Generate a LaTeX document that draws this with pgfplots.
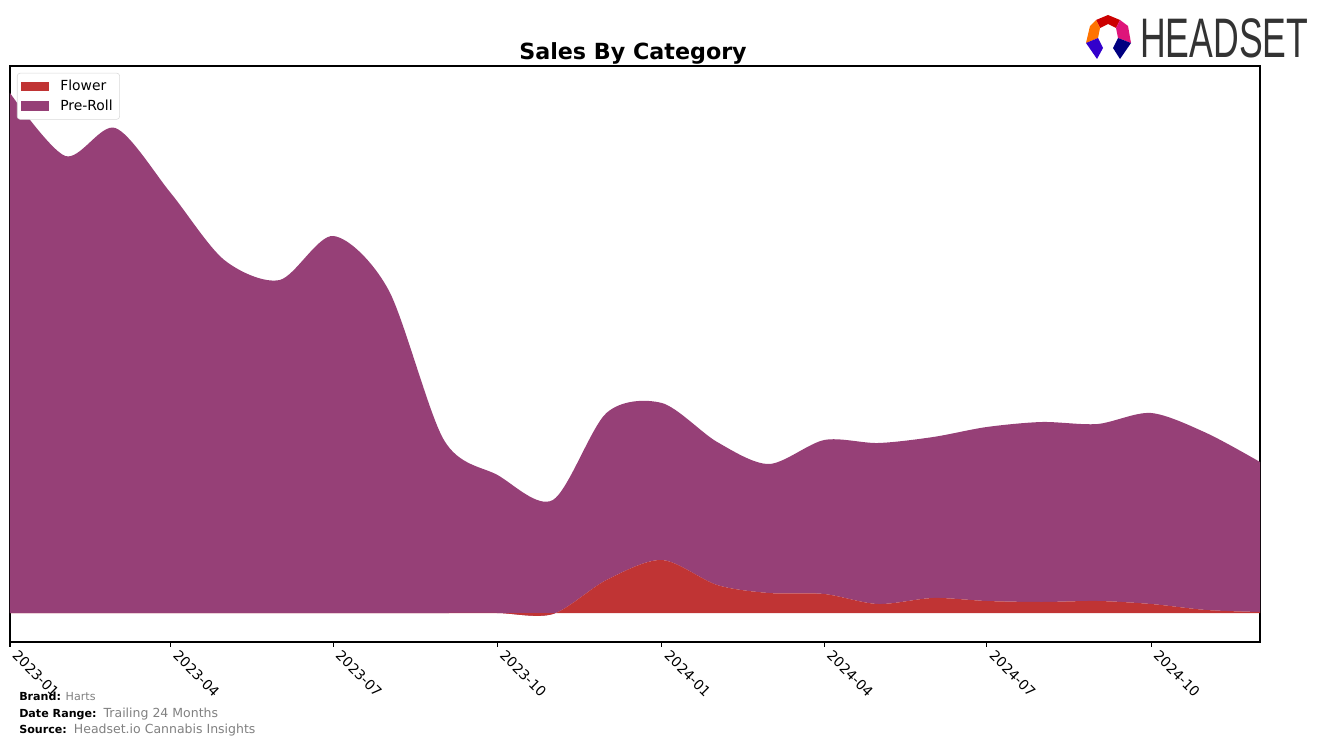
\documentclass[border=0pt]{standalone}
\usepackage{pgfplots}
\pgfplotsset{compat=1.18}
\usepackage{fontspec}
\setmainfont{DejaVu Sans}
\newfontfamily\logofont{Liberation Sans}
\definecolor{flower}{RGB}{192,52,52}
\definecolor{preroll}{RGB}{150,64,119}
\definecolor{footgray}{RGB}{128,128,128}
\definecolor{logogray}{RGB}{51,51,51}

% monthly values, day = days since 2023-01-01, values in chart units
\pgfplotstableread{
day flower preroll
0   0   520
31  0   457
59  0   485
90  0   420
120 0   353
151 0   333
181 0   377
212 0   323
243 0   173
273 0   138
304 -1  114
334 33  167
365 53  157
396 28  143
425 20  129
456 19  154
486 9   161
517 15  161
547 12  174
578 11  180
609 12  177
639 9   191
670 3   177
700 1   150
}\sales

\begin{document}
\begin{tikzpicture}[x=0.72pt,y=0.72pt]
\useasboundingbox (0,0) rectangle (1324,745);
\begin{axis}[
  at={(7.2pt,74.16pt)}, anchor=south west,
  scale only axis, width=900pt, height=414.72pt,
  xmin=0, xmax=700, ymin=-29, ymax=547,
  ytick=\empty,
  xtick={0,90,181,273,365,456,547,639},
  xticklabels={2023-01,2023-04,2023-07,2023-10,2024-01,2024-04,2024-07,2024-10},
  xtick pos=bottom, tick align=outside,
  major tick length=3.5pt,
  x tick label style={xshift=6.5pt, rotate=-45, anchor=north west, font=\fontsize{10}{12}\selectfont, inner sep=1pt},
  axis line style={line width=0.8pt},
  every tick/.style={black, line width=0.8pt},
  stack plots=y,
  legend cell align=left,
  legend style={at={(0.0056,0.988)}, anchor=north west, draw=black!15, rounded corners=2pt,
    font=\fontsize{10}{12}\selectfont, row sep=1pt, inner xsep=3pt, inner ysep=3pt,
    /tikz/every odd column/.append style={column sep=6.5pt}},
  legend image code/.code={\fill[#1, sharp corners] (0pt,-3.5pt) rectangle (19.5pt,3.5pt);},
]
\addplot[draw=none, fill=flower, smooth] table[x=day, y=flower] {\sales} \closedcycle;
\addlegendentry{Flower}
\addplot[draw=none, fill=preroll, smooth] table[x=day, y=preroll] {\sales} \closedcycle;
\addlegendentry{Pre-Roll}
\end{axis}

\node[anchor=base, font=\fontsize{16}{18}\selectfont\bfseries] at (633,685) {Sales By Category};

\node[anchor=base west, inner sep=0pt, font=\fontsize{8}{10}\selectfont] at (19,45)
  {\textbf{Brand:} \textcolor{footgray}{Harts}};
\node[anchor=base west, inner sep=0pt, font=\fontsize{8}{10}\selectfont] at (19,28)
  {\textbf{Date Range:}\ \ \textcolor{footgray}{\fontsize{9}{10}\selectfont Trailing 24 Months}};
\node[anchor=base west, inner sep=0pt, font=\fontsize{8}{10}\selectfont] at (19,12)
  {\textbf{Source:}\ \ \textcolor{footgray}{\fontsize{9}{10}\selectfont Headset.io Cannabis Insights}};

% logo
\node[anchor=north west, inner sep=0pt, text=logogray] at (1140,727)
  {\resizebox{121pt}{28pt}{\logofont HEADSET}};
\fill[red!80!black] (1096,725) -- (1108,730) -- (1120,725) -- (1116,717) -- (1108,721) -- (1100,717) -- cycle;
\fill[orange!90!red] (1090,719) -- (1096,725) -- (1100,717) -- (1098,707) -- (1086,702) -- cycle;
\fill[magenta!70!purple] (1120,725) -- (1128,719) -- (1131,702) -- (1118,707) -- (1116,717) -- cycle;
\fill[blue!60!violet] (1086,702) -- (1098,707) -- (1103,697) -- (1097,686) -- cycle;
\fill[blue!50!black] (1131,702) -- (1118,707) -- (1113,697) -- (1120,686) -- cycle;
\end{tikzpicture}
\end{document}
